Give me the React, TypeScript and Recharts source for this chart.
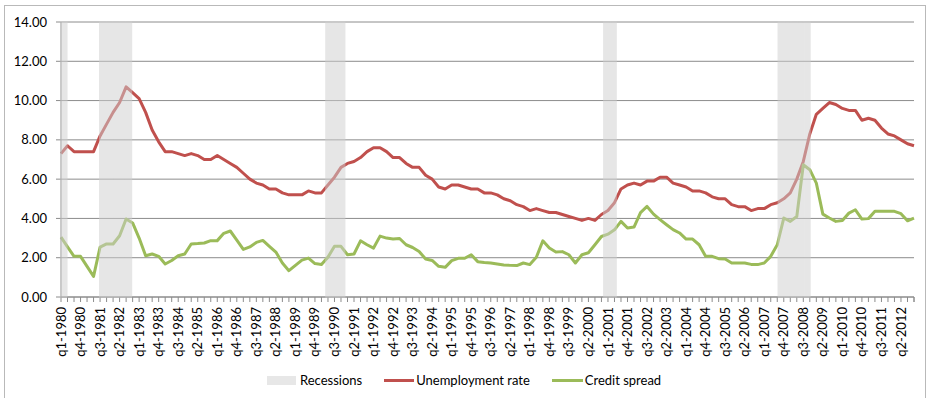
import { ComposedChart, Line, Bar, XAxis, YAxis, CartesianGrid, Legend } from "recharts";

const RED = "#c0504d";
const GREEN = "#9bbb59";
const REC = "#cfcfcf";
const GRID = "#8c8c8c";
const FONT = "Lato, 'Open Sans', sans-serif";

const years = Array.from({ length: 33 }, (_, k) => 1980 + k);
const quarters = years.flatMap((y) => ["q1", "q2", "q3", "q4"].map((q) => `${q}-${y}`));

const unemployment = [
  7.3, 7.7, 7.4, 7.4, 7.4, 7.4, 8.2, 8.8, 9.4, 9.9,
  10.7, 10.4, 10.1, 9.4, 8.5, 7.9, 7.4, 7.4, 7.3, 7.2,
  7.3, 7.2, 7.0, 7.0, 7.2, 7.0, 6.8, 6.6, 6.3, 6.0,
  5.8, 5.7, 5.5, 5.5, 5.3, 5.2, 5.2, 5.2, 5.4, 5.3,
  5.3, 5.7, 6.1, 6.6, 6.8, 6.9, 7.1, 7.4, 7.6, 7.6,
  7.4, 7.1, 7.1, 6.8, 6.6, 6.6, 6.2, 6.0, 5.6, 5.5,
  5.7, 5.7, 5.6, 5.5, 5.5, 5.3, 5.3, 5.2, 5.0, 4.9,
  4.7, 4.6, 4.4, 4.5, 4.4, 4.3, 4.3, 4.2, 4.1, 4.0,
  3.9, 4.0, 3.9, 4.2, 4.4, 4.8, 5.5, 5.7, 5.8, 5.7,
  5.9, 5.9, 6.1, 6.1, 5.8, 5.7, 5.6, 5.4, 5.4, 5.3,
  5.1, 5.0, 5.0, 4.7, 4.6, 4.6, 4.4, 4.5, 4.5, 4.7,
  4.8, 5.0, 5.3, 6.0, 6.9, 8.3, 9.3, 9.6, 9.9, 9.8,
  9.6, 9.5, 9.5, 9.0, 9.1, 9.0, 8.6, 8.3, 8.2, 8.0,
  7.8, 7.7,
];

const creditSpread = [
  3.05, 2.55, 2.07, 2.07, 1.56, 1.05, 2.54, 2.7, 2.7, 3.12,
  3.97, 3.77, 3.0, 2.1, 2.19, 2.07, 1.68, 1.86, 2.1, 2.19,
  2.7, 2.72, 2.75, 2.87, 2.87, 3.24, 3.36, 2.9, 2.42, 2.55,
  2.78, 2.88, 2.58, 2.29, 1.73, 1.34, 1.61, 1.88, 1.98, 1.7,
  1.66, 2.03, 2.58, 2.58, 2.15, 2.19, 2.86, 2.66, 2.49, 3.1,
  3.0, 2.95, 2.98, 2.66, 2.52, 2.32, 1.93, 1.86, 1.56, 1.51,
  1.85, 1.97, 1.97, 2.15, 1.8, 1.76, 1.73, 1.68, 1.63, 1.61,
  1.6, 1.73, 1.65, 2.02, 2.86, 2.49, 2.29, 2.31, 2.15, 1.73,
  2.15, 2.25, 2.66, 3.08, 3.2, 3.42, 3.85, 3.51, 3.56, 4.3,
  4.61, 4.22, 3.94, 3.68, 3.43, 3.26, 2.95, 2.95, 2.66, 2.07,
  2.07, 1.95, 1.93, 1.73, 1.73, 1.73, 1.66, 1.65, 1.73, 2.07,
  2.66, 4.02, 3.85, 4.1, 6.73, 6.48, 5.8, 4.22, 4.02, 3.85,
  3.9, 4.27, 4.44, 3.97, 3.99, 4.36, 4.36, 4.36, 4.36, 4.24,
  3.88, 4.02,
];

const recessionQuarters = [
  "q1-1980",
  "q3-1981", "q4-1981", "q1-1982", "q2-1982", "q3-1982",
  "q2-1990", "q3-1990", "q4-1990",
  "q1-2001", "q2-2001",
  "q4-2007", "q1-2008", "q2-2008", "q3-2008", "q4-2008",
];

const yTicks = [0, 2, 4, 6, 8, 10, 12, 14];

const data = quarters.map((q, i) => ({
  q,
  rec: recessionQuarters.includes(q) ? 14 : null,
  unemp: unemployment[i],
  spread: creditSpread[i],
}));

// both charts share the same plot box: x 61..914, y 22..297
const W = 927;
const H = 398;
const PLOT_W = W - 61 - 13;

function QuarterTick(props: any) {
  const { x, y, payload, index } = props;
  const half = payload?.offset ?? 0;
  const last = index === quarters.length - 1;
  const ty = y + 10;
  return (
    <g>
      <line x1={x - half} x2={x - half} y1={y} y2={y + 5} stroke={GRID} />
      {last && <line x1={x + half} x2={x + half} y1={y} y2={y + 5} stroke={GRID} />}
      {index % 3 === 0 && (
        <text
          x={x}
          y={ty}
          transform={`rotate(-90 ${x} ${ty})`}
          textAnchor="end"
          dy="0.35em"
          fontSize={13}
          fontFamily={FONT}
          fill="#000"
        >
          {payload.value}
        </text>
      )}
    </g>
  );
}

function ChartLegend() {
  return (
    <div
      style={{
        display: "flex",
        alignItems: "center",
        paddingLeft: 267,
        height: 20,
        fontSize: 13,
        fontFamily: FONT,
        color: "#000",
      }}
    >
      <span style={{ width: 29, height: 9, background: REC, opacity: 0.5, marginRight: 4 }} />
      <span style={{ marginRight: 22 }}>Recessions</span>
      <span style={{ width: 30, height: 3, background: RED, marginRight: 2 }} />
      <span style={{ marginRight: 22 }}>Unemployment rate</span>
      <span style={{ width: 31, height: 3, background: GREEN, marginRight: 2 }} />
      <span>Credit spread</span>
    </div>
  );
}

export default function App() {
  return (
    <div style={{ position: "absolute", left: 0, top: 0, width: W, height: H, background: "#fff" }}>
      <div
        style={{
          position: "absolute",
          left: 4,
          top: 5,
          width: 920,
          height: 400,
          borderTop: "1px solid #b9b9b9",
          borderLeft: "1px solid #b9b9b9",
          borderRight: "1px solid #b9b9b9",
        }}
      />
      <div style={{ position: "absolute", left: 0, top: 0 }}>
        <ComposedChart
          width={W}
          height={H}
          data={data}
          margin={{ top: 22, right: 13, left: 0, bottom: 31 }}
        >
          <CartesianGrid vertical={false} stroke={GRID} />
          <XAxis
            dataKey="q"
            interval={0}
            height={70}
            tickLine={false}
            tickSize={0}
            tickMargin={0}
            axisLine={{ stroke: GRID }}
            tick={<QuarterTick />}
          />
          <YAxis
            domain={[0, 14]}
            ticks={yTicks}
            width={61}
            tickSize={5}
            tickMargin={9}
            tickFormatter={(v: number) => v.toFixed(2)}
            axisLine={{ stroke: GRID }}
            tickLine={{ stroke: GRID }}
            tick={{ fontSize: 13, fill: "#000", fontFamily: FONT }}
          />
          <Line
            type="linear"
            dataKey="unemp"
            name="Unemployment rate"
            stroke={RED}
            strokeWidth={3}
            dot={false}
            strokeLinejoin="round"
            isAnimationActive={false}
          />
          <Line
            type="linear"
            dataKey="spread"
            name="Credit spread"
            stroke={GREEN}
            strokeWidth={3}
            dot={false}
            strokeLinejoin="round"
            isAnimationActive={false}
          />
          <Legend
            layout="horizontal"
            verticalAlign="middle"
            align="center"
            wrapperStyle={{ top: 370, left: 0, width: W, height: 20 }}
            content={<ChartLegend />}
          />
        </ComposedChart>
      </div>
      {/* recession shading sits over the lines; opacity on the layer so bars don't leave seams */}
      <div style={{ position: "absolute", left: 0, top: 0, pointerEvents: "none", opacity: 0.5 }}>
        <ComposedChart
          width={W}
          height={H}
          data={data}
          margin={{ top: 22, right: 13, left: 61, bottom: 101 }}
          barCategoryGap={0}
          barGap={0}
        >
          <XAxis dataKey="q" hide />
          <YAxis domain={[0, 14]} hide />
          <Bar
            dataKey="rec"
            name="Recessions"
            fill={REC}
            stroke={REC}
            strokeWidth={1.5}
            barSize={PLOT_W / quarters.length}
            isAnimationActive={false}
          />
        </ComposedChart>
      </div>
    </div>
  );
}
